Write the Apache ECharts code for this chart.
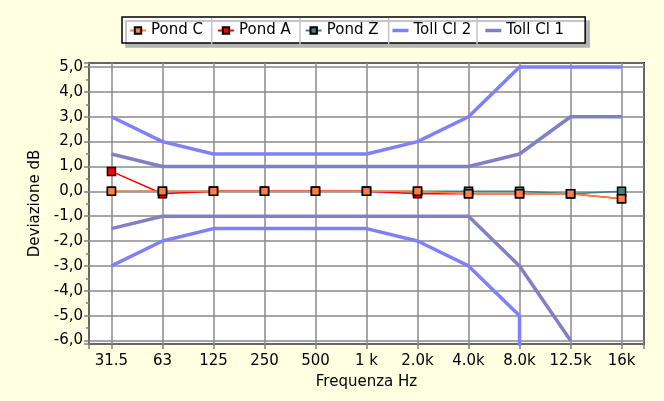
<!DOCTYPE html>
<html>
<head>
<meta charset="utf-8">
<script src="https://cdn.jsdelivr.net/npm/echarts@6/dist/echarts.min.js"></script>
<style>
  html, body { margin: 0; padding: 0; background: #FFFFE1; }
  #chart { width: 664px; height: 401px; }
</style>
</head>
<body>
<div id="chart"></div>
<script>
// frequency bands (x categories)
const categories = ['31.5', '63', '125', '250', '500', '1 k', '2.0k', '4.0k', '8.0k', '12.5k', '16k']

// measured deviations, dB
const pondC = [0, 0, 0, 0, 0, 0, 0, -0.1, -0.1, -0.1, -0.3]
const pondA = [0.8, -0.1, 0, 0, 0, 0, -0.1, -0.1, -0.1, -0.1, -0.3]
const pondZ = [0, 0, 0, 0, 0, 0, 0, 0, 0, -0.1, 0]

// tolerance limits
const tollCl2Upper = [3, 2, 1.5, 1.5, 1.5, 1.5, 2, 3, 5, 5, 5]
const tollCl2Lower = [-3, -2, -1.5, -1.5, -1.5, -1.5, -2, -3, -5]
const tollCl2LowerDrop = -7 // at 8.0k the lower limit goes off the scale
const tollCl1Upper = [1.5, 1, 1, 1, 1, 1, 1, 1, 1.5, 3, 3]
const tollCl1Lower = [-1.5, -1, -1, -1, -1, -1, -1, -1, -3, -6]

const colors = {
  pondC: '#FF8040',
  pondA: '#FF0000',
  pondZ: '#408080',
  cl2: '#8080FF',
  cl1: '#8080C4',
}

const font = 'DejaVu Sans'
const barIcon = 'path://M0,0L16,0L16,3.5L0,3.5Z'

function pairs(values) {
  return values.map((v, i) => [i, v])
}

function pondSeries(name, values, color) {
  return {
    name,
    type: 'line',
    data: pairs(values),
    symbol: 'rect',
    symbolSize: 8,
    lineStyle: { color, width: 1.5 },
    itemStyle: { color, borderColor: '#000', borderWidth: 1.5 },
    emphasis: { disabled: true },
  }
}

function tollSeries(name, data, color) {
  return {
    name,
    type: 'line',
    data,
    symbol: 'none',
    lineStyle: { color, width: 3.5 },
    itemStyle: { color },
    emphasis: { disabled: true },
  }
}

const cl2LowerData = pairs(tollCl2Lower)
cl2LowerData.push([tollCl2Lower.length - 1, tollCl2LowerDrop])

const chart = echarts.init(document.getElementById('chart'))
chart.setOption({
  animation: false,
  backgroundColor: '#FFFFE1',
  textStyle: { fontFamily: font, color: '#000' },
  legend: {
    data: [
      'Pond C',
      'Pond A',
      'Pond Z',
      { name: 'Toll Cl 2', icon: barIcon },
      { name: 'Toll Cl 1', icon: barIcon },
    ],
    left: 122,
    top: 17,
    padding: [6, 21, 5, 7],
    itemGap: 14,
    itemWidth: 16,
    itemHeight: 8,
    backgroundColor: '#fff',
    borderColor: '#000',
    borderWidth: 1.5,
    borderRadius: 0,
    shadowColor: '#b4b4b4',
    shadowOffsetX: 4,
    shadowOffsetY: 4,
    textStyle: { fontFamily: font, fontSize: 15, color: '#000' },
  },
  graphic: [211.7, 300, 388.7, 477].map(x => ({
    type: 'line',
    z: 100,
    shape: { x1: x, y1: 18, x2: x, y2: 44 },
    style: { stroke: '#c4c4c4', lineWidth: 1.5 },
  })),
  grid: {
    left: 89,
    right: 20,
    top: 63,
    bottom: 57,
    show: true,
    backgroundColor: '#fff',
    borderColor: '#000',
    borderWidth: 2,
  },
  xAxis: {
    type: 'value',
    min: -0.44,
    max: 10.44,
    splitNumber: 11,
    name: 'Frequenza Hz',
    nameLocation: 'middle',
    nameGap: 31,
    nameTextStyle: { fontFamily: font, fontSize: 15, color: '#000' },
    axisLine: { show: false, onZero: false },
    axisTick: { show: true, length: 5, inside: false, lineStyle: { color: '#808080', width: 1.5 } },
    axisLabel: {
      fontFamily: font,
      fontSize: 15,
      color: '#000',
      margin: 10,
      showMinLabel: true,
      showMaxLabel: true,
      formatter: v => (Number.isInteger(v) ? categories[v] ?? '' : ''),
    },
    splitLine: { show: true, lineStyle: { color: '#8a8a8a', width: 1.5 } },
  },
  yAxis: {
    type: 'value',
    min: -6.14,
    max: 5.16,
    splitNumber: 11,
    name: 'Deviazione dB',
    nameLocation: 'middle',
    nameGap: 44,
    nameTextStyle: { fontFamily: font, fontSize: 15, color: '#000' },
    axisLine: { show: false, onZero: false },
    axisTick: { show: true, length: 5, lineStyle: { color: '#808080', width: 1.5 } },
    minorTick: { show: true, splitNumber: 2, length: 3, lineStyle: { color: '#808080', width: 1.5 } },
    axisLabel: {
      fontFamily: font,
      fontSize: 15,
      color: '#000',
      margin: 6,
      formatter: v => (Number.isInteger(Math.round(v * 100) / 100) ? v.toFixed(1).replace('.', ',') : ''),
    },
    splitLine: { show: true, lineStyle: { color: '#8a8a8a', width: 1.5 } },
  },
  series: [
    tollSeries('Toll Cl 1', pairs(tollCl1Upper), colors.cl1),
    tollSeries('Toll Cl 1', pairs(tollCl1Lower), colors.cl1),
    tollSeries('Toll Cl 2', pairs(tollCl2Upper), colors.cl2),
    tollSeries('Toll Cl 2', cl2LowerData, colors.cl2),
    pondSeries('Pond Z', pondZ, colors.pondZ),
    pondSeries('Pond A', pondA, colors.pondA),
    pondSeries('Pond C', pondC, colors.pondC),
  ],
})
</script>
</body>
</html>
